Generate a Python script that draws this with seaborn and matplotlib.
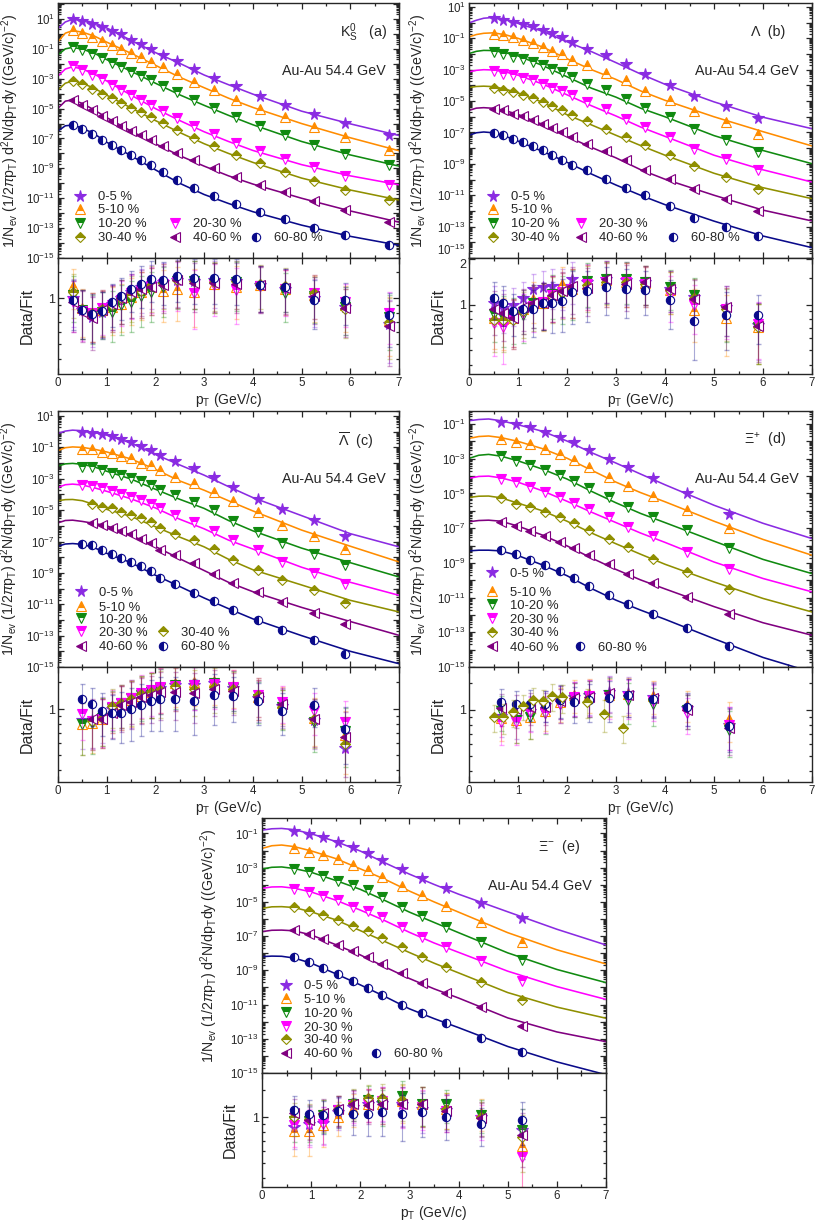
import numpy as np
import matplotlib
matplotlib.use("Agg")
import matplotlib.pyplot as plt
import seaborn as sns
from matplotlib.lines import Line2D
from matplotlib.ticker import FixedLocator, FuncFormatter, MultipleLocator, NullFormatter, LogLocator

sns.set_style("ticks")
plt.rcParams["font.family"] = ["Liberation Sans", "DejaVu Sans"]
plt.rcParams["mathtext.fontset"] = "custom"
plt.rcParams["mathtext.rm"] = "Liberation Sans"
plt.rcParams["mathtext.it"] = "Liberation Sans:italic"
plt.rcParams["mathtext.bf"] = "Liberation Sans:bold"

centrality = ["0-5 %", "5-10 %", "10-20 %", "20-30 %", "30-40 %", "40-60 %", "60-80 %"]

# ---------------- K0S (a) ----------------
k0s_pt = [0.3, 0.5, 0.7, 0.9, 1.1, 1.3, 1.5, 1.7, 1.9, 2.15, 2.45, 2.8, 3.2, 3.65, 4.15, 4.65, 5.25, 5.9, 6.8]
k0s_logy = [
    [1.0, 0.85, 0.68, 0.45, 0.22, -0.03, -0.41, -0.70, -1.03, -1.41, -1.79, -2.35, -2.93, -3.49, -4.13, -4.76, -5.38, -5.99, -6.77],
    [0.24, 0.04, -0.2, -0.47, -0.75, -1.01, -1.28, -1.57, -1.86, -2.24, -2.71, -3.21, -3.77, -4.41, -5.01, -5.56, -6.23, -6.91, -7.79],
    [-0.89, -1.1, -1.34, -1.64, -1.97, -2.24, -2.52, -2.8, -3.09, -3.46, -3.91, -4.41, -4.96, -5.56, -6.17, -6.78, -7.42, -8.05, -8.8],
    [-2.18, -2.43, -2.73, -3.05, -3.39, -3.73, -4.08, -4.41, -4.74, -5.14, -5.61, -6.14, -6.7, -7.28, -7.85, -8.36, -8.93, -9.49, -10.12],
    [-3.13, -3.38, -3.68, -4.0, -4.32, -4.62, -4.93, -5.24, -5.55, -5.94, -6.41, -6.94, -7.5, -8.08, -8.67, -9.22, -9.84, -10.42, -11.13],
    [-4.4, -4.73, -5.11, -5.48, -5.83, -6.15, -6.48, -6.79, -7.1, -7.49, -7.96, -8.46, -9.0, -9.57, -10.1, -10.61, -11.2, -11.82, -12.59],
    [-6.11, -6.38, -6.72, -7.11, -7.45, -7.77, -8.09, -8.43, -8.78, -9.25, -9.76, -10.31, -10.85, -11.39, -11.94, -12.41, -13.0, -13.49, -14.14],
]
k0s_ratio = [
    [1.0, 0.84, 0.76, 0.82, 0.92, 1.0, 1.1, 1.18, 1.25, 1.28, 1.33, 1.3, 1.32, 1.3, 1.22, 1.16, 1.0, 0.88, 0.68],
    [1.2, 0.86, 0.8, 0.84, 0.88, 0.92, 1.02, 1.1, 1.18, 1.12, 1.16, 1.1, 1.25, 1.18, 1.22, 1.16, 1.05, 0.9, 0.72],
    [1.05, 0.84, 0.78, 0.82, 0.82, 0.9, 0.95, 1.03, 1.1, 1.18, 1.3, 1.3, 1.25, 1.28, 1.2, 1.08, 1.04, 0.88, 0.76],
    [0.95, 0.83, 0.8, 0.86, 0.9, 0.98, 1.08, 1.12, 1.2, 1.25, 1.28, 1.08, 1.22, 1.13, 1.2, 1.15, 1.08, 0.95, 0.8],
    [1.1, 0.84, 0.8, 0.85, 0.9, 1.0, 1.05, 1.12, 1.22, 1.27, 1.32, 1.3, 1.28, 1.3, 1.25, 1.2, 1.08, 0.85, 0.7],
    [0.95, 0.82, 0.74, 0.84, 0.92, 1.0, 1.1, 1.15, 1.18, 1.22, 1.32, 1.26, 1.26, 1.25, 1.22, 1.17, 1.03, 0.86, 0.66],
    [0.97, 0.84, 0.79, 0.83, 0.95, 1.04, 1.16, 1.25, 1.35, 1.32, 1.4, 1.37, 1.37, 1.35, 1.22, 1.19, 0.98, 0.97, 0.78],
]
k0s_err = [0.35, 0.3, 0.28, 0.28, 0.3, 0.32, 0.35, 0.38, 0.4, 0.42, 0.45, 0.45, 0.45, 0.45, 0.4, 0.38, 0.35, 0.3, 0.3]

fit_pt_abc = [0, 0.15, 0.3, 0.5, 0.75, 1, 1.5, 2, 2.5, 3, 3.5, 4, 5, 6, 7]
k0s_fit = [
    [0.37, 0.8, 0.98, 0.93, 0.74, 0.4, -0.43, -1.25, -1.97, -2.75, -3.4, -4.03, -5.17, -6.02, -6.8],
    [-0.52, 0.05, 0.22, 0.12, -0.15, -0.55, -1.3, -2.1, -2.9, -3.6, -4.3, -4.92, -6.0, -6.95, -7.82],
    [-1.4, -1.0, -0.9, -1.02, -1.3, -1.72, -2.5, -3.3, -4.08, -4.78, -5.45, -6.08, -7.2, -8.1, -8.85],
    [-2.82, -2.35, -2.2, -2.35, -2.7, -3.15, -4.1, -5.0, -5.8, -6.55, -7.2, -7.8, -8.75, -9.5, -10.1],
    [-3.75, -3.3, -3.15, -3.3, -3.65, -4.1, -4.95, -5.8, -6.6, -7.35, -8.0, -8.6, -9.65, -10.45, -11.12],
    [-4.98, -4.5, -4.42, -4.65, -5.1, -5.6, -6.5, -7.35, -8.15, -8.85, -9.5, -10.05, -11.0, -11.85, -12.6],
    [-6.5, -6.15, -6.1, -6.3, -6.7, -7.25, -8.15, -9.1, -10.0, -10.75, -11.35, -11.9, -12.8, -13.55, -14.15],
]

# ---------------- Lambda (b) ----------------
lam_pt = [0.5, 0.7, 0.9, 1.1, 1.3, 1.5, 1.7, 1.9, 2.1, 2.4, 2.8, 3.2, 3.6, 4.1, 4.6, 5.25, 5.9]
lam_logy = [
    [0.32, 0.19, 0.04, -0.1, -0.23, -0.44, -0.64, -0.91, -1.23, -1.66, -2.08, -2.65, -3.29, -3.99, -4.67, -5.33, -6.05],
    [-0.7, -0.76, -0.91, -1.08, -1.29, -1.55, -1.8, -1.97, -2.36, -2.72, -3.21, -3.67, -4.35, -4.95, -5.65, -6.33, -7.07],
    [-1.87, -1.97, -2.19, -2.29, -2.51, -2.72, -2.93, -3.14, -3.46, -3.93, -4.31, -4.84, -5.42, -6.01, -6.8, -7.5, -8.24],
    [-3.08, -3.25, -3.36, -3.5, -3.67, -3.89, -4.14, -4.35, -4.63, -5.06, -5.48, -6.12, -6.65, -7.29, -8.03, -8.67, -9.41],
    [-4.14, -4.27, -4.42, -4.63, -4.8, -5.06, -5.33, -5.59, -5.91, -6.27, -6.76, -7.29, -7.82, -8.46, -9.14, -9.84, -10.58],
    [-5.48, -5.59, -5.8, -5.97, -6.22, -6.48, -6.71, -6.97, -7.29, -7.71, -8.18, -8.77, -9.37, -9.99, -10.58, -11.22, -12.0],
    [-7.03, -7.14, -7.39, -7.61, -7.86, -8.14, -8.46, -8.73, -9.09, -9.41, -9.94, -10.54, -11.01, -11.71, -12.43, -13.02, -13.62],
]
lam_ratio = [
    [1.02, 0.95, 1.0, 1.1, 1.27, 1.3, 1.32, 1.32, 1.46, 1.4, 1.48, 1.44, 1.4, 1.27, 1.12, 0.97, 0.73],
    [0.81, 0.8, 0.81, 0.94, 1.08, 1.02, 1.15, 1.36, 1.27, 1.37, 1.44, 1.41, 1.39, 1.25, 0.92, 0.81, 0.71],
    [0.87, 0.83, 0.83, 0.86, 1.02, 1.03, 1.18, 1.15, 1.24, 1.42, 1.46, 1.46, 1.4, 1.3, 1.15, 0.92, 0.71],
    [0.76, 0.71, 0.79, 0.88, 0.98, 1.04, 1.15, 1.21, 1.27, 1.37, 1.41, 1.41, 1.37, 1.15, 0.99, 0.94, 0.74],
    [0.79, 0.79, 0.79, 0.9, 0.99, 1.03, 1.14, 1.2, 1.26, 1.34, 1.41, 1.41, 1.37, 1.25, 1.11, 0.93, 0.71],
    [0.93, 0.88, 0.81, 0.97, 1.02, 1.03, 1.15, 1.23, 1.32, 1.29, 1.48, 1.36, 1.4, 1.27, 1.09, 0.97, 0.72],
    [1.1, 1.02, 0.9, 0.94, 0.93, 1.03, 1.03, 1.06, 1.2, 1.22, 1.3, 1.26, 1.25, 1.07, 0.78, 0.85, 0.85],
]
lam_err = [0.3, 0.3, 0.28, 0.3, 0.32, 0.35, 0.38, 0.4, 0.45, 0.45, 0.45, 0.45, 0.4, 0.38, 0.35, 0.35, 0.3]
lam_fit = [
    [-0.02, 0.15, 0.28, 0.33, 0.22, -0.05, -0.55, -1.22, -1.85, -2.55, -3.27, -3.93, -5.05, -6.03, -6.76],
    [-0.91, -0.76, -0.68, -0.65, -0.78, -1.0, -1.55, -2.3, -3.0, -3.62, -4.35, -4.95, -6.0, -6.95, -7.86],
    [-1.97, -1.83, -1.77, -1.78, -1.92, -2.12, -2.73, -3.45, -4.18, -4.75, -5.45, -6.0, -7.2, -8.15, -8.99],
    [-3.14, -3.04, -3.0, -3.02, -3.15, -3.35, -3.91, -4.6, -5.3, -5.95, -6.65, -7.25, -8.45, -9.38, -10.16],
    [-4.14, -4.07, -4.05, -4.08, -4.25, -4.48, -5.07, -5.87, -6.52, -7.18, -7.83, -8.45, -9.6, -10.52, -11.22],
    [-5.59, -5.45, -5.42, -5.46, -5.62, -5.85, -6.49, -7.25, -7.95, -8.62, -9.37, -9.98, -11.0, -11.95, -12.64],
    [-7.18, -7.02, -6.97, -7.02, -7.25, -7.55, -8.2, -8.9, -9.65, -10.35, -11.0, -11.6, -12.65, -13.6, -14.34],
]

# ---------------- anti-Lambda (c) ----------------
alam_pt = [0.5, 0.7, 0.9, 1.1, 1.3, 1.5, 1.7, 1.9, 2.1, 2.4, 2.8, 3.2, 3.6, 4.1, 4.6, 5.25, 5.9]
alam_logy = [
    [0.0, -0.06, -0.17, -0.28, -0.49, -0.64, -0.91, -1.17, -1.49, -1.85, -2.34, -2.87, -3.55, -4.26, -4.94, -5.64, -6.66],
    [-1.13, -1.13, -1.28, -1.34, -1.55, -1.7, -1.98, -2.13, -2.45, -2.87, -3.3, -3.83, -4.4, -5.11, -5.96, -6.66, -7.45],
    [-2.23, -2.28, -2.45, -2.62, -2.77, -2.98, -3.15, -3.4, -3.72, -4.04, -4.47, -5.0, -5.68, -6.38, -7.09, -7.77, -8.51],
    [-3.4, -3.47, -3.62, -3.77, -3.94, -4.15, -4.36, -4.62, -4.89, -5.32, -5.74, -6.32, -6.91, -7.51, -8.3, -9.0, -9.72],
    [np.nan, -4.64, -4.79, -4.89, -5.11, -5.32, -5.53, -5.74, -6.17, -6.49, -6.91, -7.45, -8.15, -8.79, -9.47, -10.11, -10.91],
    [np.nan, -5.85, -5.96, -6.11, -6.32, -6.53, -6.81, -7.09, -7.51, -7.87, -8.4, -9.04, -9.64, -10.21, -10.85, -11.55, -12.23],
    [-7.13, -7.23, -7.55, -7.77, -8.04, -8.3, -8.57, -8.87, -9.3, -9.68, -10.28, -10.79, -11.34, -11.98, -12.66, -13.3, -14.15],
]
alam_ratio = [
    [0.85, 0.85, 0.9, 1.0, 1.08, 1.14, 1.22, 1.3, 1.38, 1.44, 1.44, 1.48, 1.38, 1.18, 1.05, 0.85, 0.56],
    [0.8, 0.82, 0.86, 1.0, 1.08, 1.15, 1.22, 1.3, 1.4, 1.48, 1.5, 1.52, 1.42, 1.2, 1.1, 0.88, 0.68],
    [0.8, 0.81, 0.88, 1.02, 1.1, 1.18, 1.24, 1.3, 1.38, 1.45, 1.45, 1.48, 1.38, 1.16, 1.03, 0.83, 0.72],
    [0.93, 0.84, 0.87, 1.03, 1.1, 1.18, 1.28, 1.33, 1.4, 1.42, 1.44, 1.46, 1.4, 1.24, 1.12, 0.98, 0.83],
    [np.nan, 0.84, 0.88, 1.05, 1.1, 1.16, 1.26, 1.3, 1.33, 1.42, 1.36, 1.4, 1.35, 1.24, 1.04, 0.86, 0.59],
    [np.nan, 0.86, 0.86, 0.95, 1.06, 1.12, 1.2, 1.24, 1.3, 1.3, 1.27, 1.36, 1.32, 1.2, 1.08, 0.87, 0.66],
    [1.16, 1.08, 0.97, 0.94, 0.95, 1.0, 1.07, 1.14, 1.17, 1.17, 1.13, 1.24, 1.23, 1.14, 0.98, 1.07, 0.74],
]
alam_err = [0.3, 0.3, 0.3, 0.3, 0.35, 0.38, 0.4, 0.42, 0.45, 0.45, 0.45, 0.45, 0.4, 0.35, 0.3, 0.3, 0.3]
alam_fit = [
    [-0.11, 0.04, 0.1, 0.06, -0.05, -0.22, -0.72, -1.45, -2.12, -2.77, -3.5, -4.2, -5.35, -6.5, -7.34],
    [-1.21, -1.02, -0.97, -1.0, -1.12, -1.29, -1.74, -2.4, -3.14, -3.73, -4.4, -5.05, -6.27, -7.3, -8.3],
    [-2.19, -2.05, -2.02, -2.08, -2.25, -2.52, -3.02, -3.67, -4.31, -4.89, -5.66, -6.32, -7.42, -8.35, -9.26],
    [-3.55, -3.38, -3.34, -3.4, -3.58, -3.8, -4.28, -4.86, -5.58, -6.19, -6.91, -7.48, -8.64, -9.6, -10.43],
    [-4.4, -4.33, -4.32, -4.4, -4.65, -4.95, -5.4, -6.06, -6.72, -7.34, -8.13, -8.8, -9.77, -10.75, -11.49],
    [-5.81, -5.66, -5.64, -5.72, -5.85, -6.0, -6.6, -7.32, -8.1, -8.85, -9.6, -10.2, -11.2, -12.1, -12.98],
    [-7.3, -7.16, -7.13, -7.18, -7.4, -7.75, -8.35, -9.15, -9.87, -10.6, -11.28, -11.93, -13.0, -14.0, -14.79],
]

# ---------------- Xi+ (d) and Xi- (e) ----------------
xi_pt = [0.65, 0.95, 1.25, 1.55, 1.85, 2.15, 2.45, 2.85, 3.25, 3.75, 4.45, 5.3]
fit_pt_de = [0, 0.2, 0.4, 0.65, 1.0, 1.5, 2.0, 2.5, 3.0, 3.5, 4.0, 5.0, 6.0, 7.0]

xip_logy = [
    [-0.87, -1.0, -1.15, -1.44, -1.73, -2.06, -2.5, -3.02, -3.5, -4.13, -5.0, -6.19],
    [-1.88, -2.02, -2.17, -2.46, -2.73, -3.08, -3.5, -4.04, -4.58, -5.15, -5.96, -7.02],
    [-2.85, -3.12, -3.37, -3.65, -3.94, -4.27, -4.71, -5.23, -5.77, -6.38, -7.12, -8.17],
    [-4.19, -4.33, -4.62, -4.9, -5.23, -5.54, -5.92, -6.38, -6.92, -7.46, -8.37, -9.38],
    [-5.29, -5.58, -5.77, -6.06, -6.35, -6.73, -7.12, -7.6, -8.08, -8.75, -9.52, -10.48],
    [-6.63, -6.88, -7.15, -7.46, -7.79, -8.12, -8.56, -9.04, -9.62, -10.15, -10.96, -11.92],
    [-8.27, -8.5, -8.81, -9.13, -9.46, -9.9, -10.35, -10.87, -11.35, -11.92, -12.73, -13.81],
]
xip_ratio = [
    [0.92, 0.9, 0.98, 1.08, 1.15, 1.22, 1.25, 1.32, 1.3, 1.22, 1.03, 0.8],
    [0.88, 0.86, 0.9, 0.98, 1.12, 1.26, 1.28, 1.25, 1.28, 1.24, 1.08, 0.87],
    [0.98, 0.86, 0.9, 0.95, 1.1, 1.2, 1.22, 1.26, 1.16, 1.09, 1.0, 0.74],
    [0.84, 0.84, 0.97, 0.96, 1.1, 1.22, 1.24, 1.22, 1.22, 1.15, 0.95, 0.8],
    None,
    [1.03, 1.01, 1.05, 1.05, 1.15, 1.2, 1.22, 1.3, 1.25, 1.2, 1.0, 0.76],
    [1.12, 1.09, 1.1, 1.09, 1.17, 1.12, 1.16, 1.19, 1.25, 1.18, 1.04, 0.78],
]
# the 30-40 % ratio points of panel (d) sit on their own pT bins
xip_ratio_3040_pt = [0.5, 0.7, 0.9, 1.1, 1.3, 1.5, 1.7, 1.9, 2.4, 2.75, 3.15]
xip_ratio_3040 = [0.9, 0.9, 0.97, 1.06, 1.17, 1.14, 1.23, 1.21, 1.13, 0.94, 0.76]
xip_err_3040 = [0.18, 0.2, 0.2, 0.2, 0.22, 0.22, 0.25, 0.25, 0.25, 0.22, 0.15]
xip_err = [0.25, 0.25, 0.25, 0.25, 0.28, 0.3, 0.32, 0.35, 0.35, 0.3, 0.25, 0.25]
xip_fit = [
    [-0.81, -0.74, -0.71, -0.81, -1.04, -1.42, -1.98, -2.65, -3.25, -3.88, -4.5, -5.68, -6.72, -7.6],
    [-1.83, -1.72, -1.69, -1.78, -2.0, -2.42, -2.97, -3.66, -4.35, -4.95, -5.48, -6.6, -7.65, -8.56],
    [-2.98, -2.8, -2.75, -2.85, -3.12, -3.6, -4.17, -4.88, -5.54, -6.15, -6.68, -7.75, -8.8, -9.62],
    [-4.13, -4.02, -4.0, -4.1, -4.35, -4.85, -5.45, -6.08, -6.68, -7.28, -7.82, -8.95, -9.9, -10.67],
    [-5.23, -5.16, -5.15, -5.25, -5.56, -6.0, -6.6, -7.28, -7.9, -8.5, -9.08, -10.1, -11.05, -11.83],
    [-6.63, -6.56, -6.54, -6.6, -6.88, -7.4, -8.02, -8.72, -9.38, -9.98, -10.5, -11.52, -12.45, -13.17],
    [-8.31, -8.27, -8.27, -8.31, -8.58, -9.12, -9.74, -10.48, -11.15, -11.72, -12.25, -13.37, -14.45, -15.3],
]

xim_logy = [
    [-0.84, -1.04, -1.23, -1.49, -1.78, -2.13, -2.56, -3.1, -3.63, -4.21, -5.09, -5.96],
    [-1.88, -2.07, -2.27, -2.52, -2.85, -3.14, -3.53, -4.08, -4.6, -5.24, -6.16, -7.33],
    [-3.1, -3.24, -3.49, -3.76, -4.02, -4.31, -4.74, -5.28, -5.83, -6.45, -7.33, -8.4],
    [-4.27, -4.41, -4.66, -4.89, -5.28, -5.52, -5.91, -6.49, -7.04, -7.62, -8.44, -9.61],
    [-5.32, -5.52, -5.77, -6.06, -6.41, -6.69, -7.13, -7.62, -8.2, -8.79, -9.66, -10.74],
    [-6.65, -6.88, -7.19, -7.52, -7.85, -8.2, -8.63, -9.18, -9.72, -10.31, -11.12, -12.25],
    [-8.24, -8.5, -8.89, -9.22, -9.61, -10.05, -10.44, -11.03, -11.51, -12.1, -12.97, -13.75],
]
xim_ratio = [
    [0.87, 0.91, 0.92, 1.08, 1.17, 1.23, 1.25, 1.23, 1.14, 1.12, 1.01, 0.83],
    [0.81, 0.81, 0.89, 1.01, 1.14, 1.23, 1.23, 1.27, 1.22, 1.14, 1.06, 0.65],
    [0.94, 0.94, 1.04, 1.12, 1.23, 1.3, 1.2, 1.38, 1.23, 1.22, 1.04, 0.83],
    [0.89, 0.89, 0.91, 1.12, 1.2, 1.23, 1.27, 1.2, 1.17, 1.1, 0.96, 0.55],
    [1.0, 0.97, 1.05, 1.13, 1.25, 1.33, 1.34, 1.29, 1.23, 1.14, 1.01, 0.74],
    [1.06, 0.96, 1.06, 1.13, 1.22, 1.2, 1.23, 1.22, 1.22, 1.1, 0.99, 0.77],
    [1.12, 1.05, 1.03, 1.1, 1.05, 1.05, 1.08, 1.05, 1.09, 1.01, 0.9, 0.96],
]
xim_err = [0.25, 0.25, 0.25, 0.25, 0.28, 0.3, 0.32, 0.35, 0.35, 0.3, 0.25, 0.3]
xim_fit = [
    [-0.81, -0.73, -0.71, -0.78, -1.02, -1.47, -2.03, -2.72, -3.38, -3.98, -4.55, -5.58, -6.6, -7.52],
    [-1.88, -1.72, -1.68, -1.77, -2.02, -2.47, -3.07, -3.68, -4.37, -5.0, -5.6, -6.8, -7.8, -8.63],
    [-3.08, -2.98, -2.96, -3.05, -3.27, -3.75, -4.27, -4.92, -5.6, -6.2, -6.8, -7.98, -8.95, -9.72],
    [-4.21, -4.13, -4.12, -4.2, -4.42, -4.9, -5.48, -6.1, -6.78, -7.4, -7.95, -9.05, -9.95, -10.7],
    [-5.38, -5.29, -5.28, -5.33, -5.58, -6.05, -6.68, -7.32, -7.96, -8.58, -9.15, -10.3, -11.15, -11.8],
    [-6.74, -6.66, -6.65, -6.69, -6.93, -7.5, -8.1, -8.8, -9.48, -10.08, -10.62, -11.78, -12.6, -13.17],
    [-8.2, -8.17, -8.18, -8.28, -8.58, -9.2, -9.85, -10.53, -11.25, -11.82, -12.35, -13.45, -14.35, -15.1],
]

# ---------------- styles ----------------
colors = ["#8a2be2", "#ff8c00", "#108a10", "#ff00ff", "#8f8f00", "#800080", "#0a0a8a"]
markers = ["*", "^", "v", "v", "D", "<", "o"]
fills = ["full", "top", "top", "top", "top", "left", "left"]
msizes = [8.5, 6.5, 6.5, 6.5, 5.2, 6.5, 6.0]

FS_TICK = 8.3
FS_TEXT = 10.3
FS_LEG = 9.4
YLAB = (r"1/N$_{\mathregular{ev}}$ (1/2$\pi$p$_{\mathregular{T}}$) d$^{\mathregular{2}}$N/dp$_{\mathregular{T}}$dy "
        r"((GeV/c)$^{\mathregular{-2}}$)")

W, H = 817, 1221
fig = plt.figure(figsize=(W / 100, H / 100), dpi=100)
panels = []


def mstyle(i):
    return dict(ls="none", marker=markers[i], color=colors[i], markerfacecolor=colors[i],
                markerfacecoloralt="white", fillstyle=fills[i], markeredgecolor=colors[i],
                markersize=msizes[i], markeredgewidth=0.8)


def log_label(v, _):
    e = int(round(np.log10(v)))
    return r"$\mathregular{10^{%d}}$" % e if e % 2 else ""


def panel(rect_s, rect_r, pt, logy, fit_pt, fit, ratio, err, ytop, rlim, title, title_x,
          leg_pos, lab_x, extra=None):
    ax = fig.add_axes(rect_s)
    axr = fig.add_axes(rect_r, sharex=ax)
    panels.append((ax, axr))
    for i in range(7):
        sns.lineplot(x=fit_pt, y=10 ** np.array(fit[i]), ax=ax, color=colors[i], lw=1.15,
                     errorbar=None, legend=False)
        ax.plot(pt, 10 ** np.array(logy[i], dtype=float), **mstyle(i))
    ax.set_yscale("log")
    ax.set_ylim(1e-15, ytop)
    ax.set_xlim(0, 7)
    ax.yaxis.set_major_locator(FixedLocator([10.0 ** k for k in range(-15, 3)]))
    ax.yaxis.set_major_formatter(FuncFormatter(log_label))
    ax.yaxis.set_minor_locator(LogLocator(base=10, subs=np.arange(2, 10), numticks=40))
    ax.yaxis.set_minor_formatter(NullFormatter())
    ax.xaxis.set_major_locator(MultipleLocator(1))
    ax.xaxis.set_minor_locator(MultipleLocator(0.5))
    ax.tick_params(labelbottom=False)
    ax.set_xlabel("")
    ax.set_ylabel(YLAB, fontsize=10.2)
    ax.yaxis.set_label_coords(lab_x[0], 0.5)

    ax.text(title_x, 0.885, title, transform=ax.transAxes, ha="right", va="center",
            fontsize=FS_TEXT)
    ax.text(0.96, 0.735, "Au-Au 54.4 GeV", transform=ax.transAxes, ha="right", va="center",
            fontsize=FS_TEXT)

    axw = rect_s[2] * W
    hl = 1.1 * FS_LEG * 100 / 72 / 2
    for i, (lx, ly) in enumerate(leg_pos):
        h = Line2D([], [], **mstyle(i))
        leg = ax.legend([h], [centrality[i]], loc="center left",
                        bbox_to_anchor=(lx - hl / axw, ly), bbox_transform=ax.transAxes,
                        frameon=False, fontsize=FS_LEG, handlelength=1.1, handletextpad=0.85,
                        borderpad=0, borderaxespad=0)
        ax.add_artist(leg)
    ax.legend_ = None

    for i in range(7):
        if ratio[i] is None:
            continue
        axr.errorbar(pt, ratio[i], yerr=err, fmt="none", ecolor=colors[i], elinewidth=0.8,
                     capsize=1.8, alpha=0.35)
        axr.plot(pt, ratio[i], **mstyle(i))
    if extra is not None:
        xpt, xr, xe, i = extra
        axr.errorbar(xpt, xr, yerr=xe, fmt="none", ecolor=colors[i], elinewidth=0.8,
                     capsize=1.8, alpha=0.35)
        axr.plot(xpt, xr, **mstyle(i))
    axr.set_yscale("log")
    axr.set_ylim(*rlim)
    axr.yaxis.set_major_locator(FixedLocator([1, 2]))
    axr.yaxis.set_major_formatter(FuncFormatter(lambda v, _: "%d" % round(v)))
    axr.yaxis.set_minor_locator(FixedLocator([0.4, 0.5, 0.6, 0.7, 0.8, 0.9, 1.5]))
    axr.yaxis.set_minor_formatter(NullFormatter())
    axr.set_xlim(0, 7)
    axr.set_xlabel(r"p$_{\mathregular{T}}$ (GeV/c)", fontsize=10, labelpad=1)
    axr.set_ylabel("Data/Fit", fontsize=11.5)
    axr.yaxis.set_label_coords(lab_x[1], 0.5)

    for a in (ax, axr):
        a.tick_params(axis="both", which="both", direction="in", top=True, right=True,
                      labelsize=FS_TICK, width=0.9, pad=2.5)
        a.tick_params(which="major", length=4.5)
        a.tick_params(which="minor", length=2.5)
        for s in a.spines.values():
            s.set_linewidth(1.0)
    axr.tick_params(axis="y", which="major", labelsize=9, pad=2)
    return ax, axr


def fx(px):
    return px / W


def fy(top, bottom):
    return 1 - bottom / H, (bottom - top) / H


LEG_AB = [(0.065, 0.239), (0.065, 0.188), (0.065, 0.133), (0.343, 0.133),
          (0.065, 0.078), (0.343, 0.078), (0.580, 0.078)]
LEG_B = [(0.07, 0.239), (0.07, 0.188), (0.07, 0.133), (0.327, 0.133),
         (0.07, 0.078), (0.327, 0.078), (0.595, 0.078)]
LEG_C = [(0.068, 0.29), (0.068, 0.232), (0.068, 0.185), (0.068, 0.135), (0.308, 0.135),
         (0.068, 0.077), (0.308, 0.077)]
LEG_D = [(0.067, 0.364), (0.067, 0.291), (0.067, 0.239), (0.067, 0.184), (0.067, 0.132),
         (0.067, 0.076), (0.323, 0.076)]
LEG_E = [(0.07, 0.341), (0.07, 0.287), (0.07, 0.233), (0.07, 0.178), (0.07, 0.128),
         (0.07, 0.074), (0.33, 0.074)]

xa, wa = fx(58), fx(341)
xb, wb = fx(469), fx(343)
xe, we = fx(262), fx(344)

b, h = fy(3, 258)
rb, rh = fy(258, 374)
panel([xa, b, wa, h], [xa, rb, wa, rh], k0s_pt, k0s_logy, fit_pt_abc, k0s_fit, k0s_ratio, k0s_err,
      10 ** 2.07, (0.32, 1.84), r"K$^{\mathregular{0}}_{\mathregular{S}}$   (a)", 0.965, LEG_AB,
      (-0.108, -0.067))
panel([xb, b, wb, h], [xb, rb, wb, rh], lam_pt, lam_logy, fit_pt_abc, lam_fit, lam_ratio, lam_err,
      10 ** 1.25, (0.35, 2.02), "Λ  (b)", 0.921, LEG_B, (-0.117, -0.067))

b, h = fy(411, 667)
rb, rh = fy(667, 782)
panel([xa, b, wa, h], [xa, rb, wa, rh], alam_pt, alam_logy, fit_pt_abc, alam_fit, alam_ratio,
      alam_err, 10 ** 1.32, (0.335, 1.89), r"$\mathregular{\overline{\Lambda}}$  (c)", 0.924,
      LEG_C, (-0.111, -0.067))
panel([xb, b, wb, h], [xb, rb, wb, rh], xi_pt, xip_logy, fit_pt_de, xip_fit, xip_ratio, xip_err,
      10 ** -0.25, (0.338, 1.91), r"Ξ$^{\mathregular{+}}$  (d)", 0.924, LEG_D, (-0.117, -0.067),
      extra=(xip_ratio_3040_pt, xip_ratio_3040, xip_err_3040, 4))

b, h = fy(818, 1073)
rb, rh = fy(1073, 1187)
panel([xe, b, we, h], [xe, rb, we, rh], xi_pt, xim_logy, fit_pt_de, xim_fit, xim_ratio, xim_err,
      10 ** -0.1, (0.35, 1.95), r"Ξ$^{\mathregular{-}}$  (e)", 0.924, LEG_E, (-0.122, -0.07))

# where the ratio axis shows "2", hang it below its tick and lift the 10^-15 label above
fig.canvas.draw()
for ax, axr in panels:
    if axr.get_ylim()[1] < 2:
        continue
    for tick in axr.yaxis.get_major_ticks():
        if abs(tick.get_loc() - 2) < 1e-9:
            tick.label1.set_verticalalignment("top")
    for tick in ax.yaxis.get_major_ticks():
        if abs(np.log10(tick.get_loc()) + 15) < 1e-6:
            tick.label1.set_verticalalignment("bottom")

fig.savefig("out.png", dpi=100)
